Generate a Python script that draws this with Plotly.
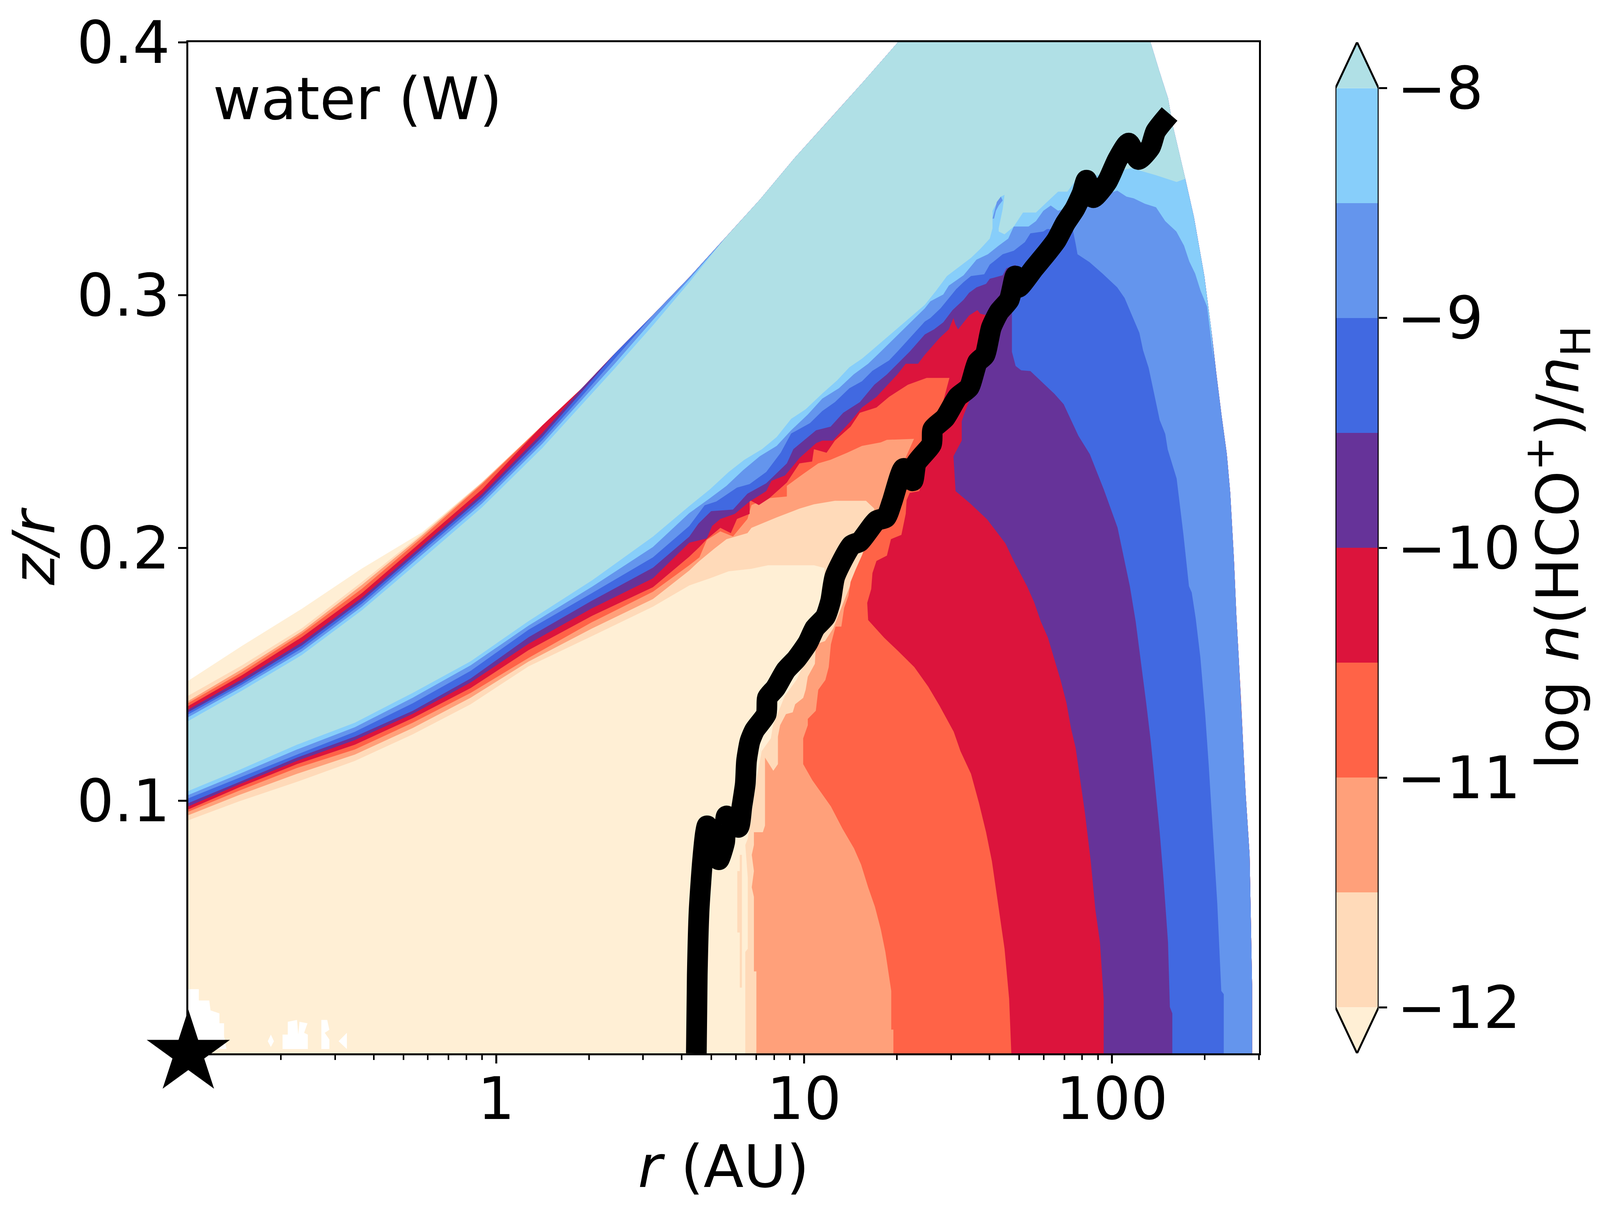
import plotly.graph_objects as go

# ---- values: log10(r/AU), z/r ----
upper_logr = [-1, -.827, -.631, -.436, -.241, -.046, .150, .277, .384, .509, .627, .744, .857, .970, 1.083, 1.195, 1.305]
upper_powder = [.1315, .1434, .1576, .1753, .1955, .2160, .2395, .2565, .2708, .2880, .3050, .3226, .3378, .3543, .3695,
                .3847, .400]
# height of each level's top edge above the top of the powder-blue layer
band_papaya = [.0159, .0177, .0183, .0165, .0106, .0100, .0089, .0065, .0059, .0041, .0020, 0, 0, 0, 0, 0, 0]
band_peach = [.0100, .0100, .0106, .0112, .0100, .0100, .0089, .0065, .0059, .0041, .0020, 0, 0, 0, 0, 0, 0]
band_salmon = [.0079, .0085, .0094, .0100, .0094, .0097, .0089, .0065, .0059, .0041, .0020, 0, 0, 0, 0, 0, 0]
band_tomato = [.0071, .0073, .0085, .0085, .0085, .0092, .0089, .0065, .0059, .0041, .0020, 0, 0, 0, 0, 0, 0]
band_crimson = [.0059, .0061, .0071, .0068, .0071, .0071, .0089, .0065, .0059, .0041, .0020, 0, 0, 0, 0, 0, 0]
band_purple = [.0045, .0045, .0050, .0050, .0053, .0053, .0059, .0065, .0059, .0041, .0020, 0, 0, 0, 0, 0, 0]
band_royal = [.0035, .0033, .0038, .0038, .0041, .0041, .0045, .0050, .0059, .0041, .0020, 0, 0, 0, 0, 0, 0]
band_corn = [.0026, .0024, .0026, .0026, .0030, .0028, .0031, .0033, .0038, .0041, .0020, 0, 0, 0, 0, 0, 0]
band_sky = [.0015, .0014, .0014, .0014, .0017, .0015, .0017, .0018, .0019, .0021, .0012, 0, 0, 0, 0, 0, 0]
band_powder = [0] * 17

outer_edge = [(2.125, .400), (2.153, .3888), (2.182, .3778), (2.198, .3667), (2.238, .3460), (2.266, .3309),
              (2.300, .3074), (2.322, .2867), (2.339, .2688), (2.356, .2522), (2.373, .2370), (2.384, .2218),
              (2.396, .1956), (2.404, .1733), (2.411, .1579), (2.419, .1400), (2.426, .1221), (2.434, .1029),
              (2.447, .0785), (2.455, .0273), (2.455, 0)]

edge_peach = [(-1, .0922), (-.835, .0997), (-.647, .1074), (-.459, .1157), (-.271, .1262), (-.083, .1381), (.105, .1531),
              (.31, .1650), (.509, .1767), (.627, .1851), (.694, .1879),
              (.755, .1907), (.829, .1917), (.883, .1931), (1.032, .1931), (1.066, .1920), (1.069, .1669),
              (1.035, .1631), (.975, .1477), (.937, .1413), (.899, .1298), (.892, .1246), (.862, .1195),
              (.843, .1067), (.817, .0849), (.809, .0824), (.817, .0696), (.817, .0414), (.809, .0401), (.809, 0)]

edge_salmon = [(-1, .0942), (-.835, .1022), (-.647, .1106), (-.459, .1182), (-.271, .1287), (-.083, .1407), (.105, .1550),
               (.31, .1680), (.509, .1797), (.627, .1910), (.660, .1948),
               (.708, .1996), (.748, .2034), (.816, .2058), (.829, .2079), (.911, .2120), (.985, .2155), (1.032, .2172),
               (1.100, .2186), (1.201, .2186), (1.228, .2155), (1.188, .1969), (1.095, .1682), (1.068, .1631),
               (1.038, .1618), (1.035, .1541), (1.012, .1490), (1.005, .1438), (.997, .1406), (.971, .1381),
               (.963, .1349), (.941, .1342), (.922, .1298), (.915, .1253), (.915, .1144), (.900, .1118), (.873, .1170),
               (.873, .0901), (.866, .0875), (.837, .0875), (.837, .0824), (.830, .0785), (.837, .0721), (.830, .0657),
               (.837, .0619), (.837, .0324), (.845, .0324), (.845, 0)]

edge_tomato = [(-1, .0956), (-.835, .1039), (-.647, .1129), (-.459, .1202), (-.271, .1308), (-.083, .1426), (.105, .1564),
               (.31, .1705), (.509, .1826), (.627, .1931), (.660, .1962),
               (.684, .2031), (.728, .2065), (.769, .2045), (.816, .2114), (.829, .2169), (.883, .2196), (.944, .2203),
               (.944, .2245), (.998, .2293), (1.046, .2334), (1.086, .2348), (1.140, .2376), (1.188, .2403),
               (1.249, .2417), (1.269, .2427), (1.357, .2431), (1.167, .1913), (1.151, .1865), (1.144, .1810),
               (1.130, .1762), (1.121, .1688), (1.102, .1688), (1.087, .1618), (1.080, .1528), (1.069, .1477),
               (1.046, .1438), (1.038, .1355), (1.012, .1323), (1.012, .1298), (.997, .1246), (.997, .1144),
               (1.027, .1080), (1.050, .1041), (1.087, .0977), (1.125, .0888), (1.162, .0811), (1.185, .0747),
               (1.208, .0657), (1.230, .0580), (1.249, .0491), (1.264, .0401), (1.283, .0247), (1.283, .0094),
               (1.290, .0094), (1.290, 0)]

edge_crimson = [(-1, .0965), (-.835, .1052), (-.647, .1144), (-.459, .1221), (-.271, .1326), (-.083, .1445), (.105, .1595),
                (.31, .1730), (.509, .1844), (.627, .1965), (.660, .2003),
                (.684, .2034), (.728, .2079), (.762, .2058), (.782, .2114), (.823, .2134), (.823, .2189), (.853, .2169),
                (.887, .2196), (.944, .2258), (.985, .2334), (1.026, .2341), (1.032, .2390), (1.073, .2376),
                (1.100, .2424), (1.151, .2479), (1.181, .2534), (1.235, .2555), (1.276, .2597), (1.337, .2645),
                (1.398, .2672), (1.472, .2672), (1.374, .2224), (1.343, .2217), (1.333, .2189), (1.330, .2134),
                (1.316, .2051), (1.282, .2034), (1.269, .1969), (1.235, .1948), (1.222, .1900), (1.218, .1837),
                (1.205, .1782), (1.208, .1714), (1.260, .1644), (1.305, .1592), (1.358, .1528), (1.403, .1451),
                (1.440, .1375), (1.486, .1272), (1.508, .1195), (1.542, .1106), (1.568, .0990), (1.591, .0875),
                (1.610, .0760), (1.628, .0606), (1.651, .0414), (1.666, .0215), (1.673, 0)]

edge_purple = [(-1, .0977), (-.835, .1064), (-.647, .1157), (-.459, .1239), (-.271, .1343), (-.083, .1467), (.105, .1620),
               (.31, .1760), (.509, .1879), (.627, .2020), (.684, .2037),
               (.701, .2086), (.728, .2114), (.775, .2134), (.823, .2183), (.877, .2224), (.894, .2265), (.938, .2286),
               (.971, .2334), (.985, .2355), (1.039, .2414), (1.059, .2424), (1.093, .2424), (1.151, .2500),
               (1.188, .2555), (1.235, .2597), (1.303, .2686), (1.330, .2728), (1.370, .2728), (1.391, .2762),
               (1.440, .2830), (1.470, .2864), (1.485, .2909), (1.491, .2885), (1.500, .2864), (1.518, .2892),
               (1.536, .2919), (1.563, .2940), (1.572, .2926), (1.597, .2919), (1.606, .2940), (1.566, .2686),
               (1.566, .2627), (1.539, .2589), (1.519, .2527), (1.512, .2500), (1.512, .2424), (1.485, .2362),
               (1.492, .2224), (1.539, .2176), (1.594, .2113), (1.654, .2017), (1.681, .1948), (1.724, .1848),
               (1.747, .1785), (1.769, .1708), (1.792, .1644), (1.814, .1554), (1.833, .1477), (1.852, .1387),
               (1.867, .1285), (1.882, .1208), (1.897, .1080), (1.912, .0952), (1.931, .0760), (1.946, .0568),
               (1.961, .0439), (1.973, .0215), (1.973, 0)]

edge_royal = [(-1, .0990), (-.835, .1073), (-.647, .1170), (-.459, .1253), (-.271, .1355), (-.083, .1483), (.105, .1646),
              (.31, .1790), (.509, .1921), (.627, .2044), (.657, .2096),
              (.698, .2145), (.769, .2151), (.816, .2214), (.877, .2255), (.944, .2334), (.965, .2390), (1.039, .2465),
              (1.086, .2479), (1.127, .2534), (1.181, .2576), (1.228, .2645), (1.269, .2686), (1.303, .2728),
              (1.343, .2776), (1.392, .2844), (1.422, .2864), (1.452, .2892), (1.482, .2940), (1.518, .2981),
              (1.536, .3009), (1.560, .3030), (1.591, .3044), (1.603, .3064), (1.645, .3078), (1.657, .3106),
              (1.687, .3119), (1.675, .2926), (1.675, .2775), (1.687, .2719), (1.705, .2702), (1.735, .2699),
              (1.777, .2650), (1.813, .2609), (1.843, .2568), (1.867, .2506), (1.891, .2443), (1.928, .2370),
              (1.973, .2232), (2.018, .2080), (2.058, .1848), (2.077, .1708), (2.092, .1567), (2.111, .1387),
              (2.126, .1234), (2.141, .1054), (2.155, .0875), (2.167, .0696), (2.182, .0439), (2.188, .0183),
              (2.196, .0158), (2.196, 0)]

edge_corn = [(-1, .1009), (-.835, .1090), (-.647, .1182), (-.459, .1272), (-.271, .1385), (-.083, .1513), (.105, .1676),
             (.31, .1820), (.509, .1962), (.627, .2086), (.677, .2168),
             (.715, .2183), (.782, .2238), (.823, .2252), (.877, .2300), (.924, .2376), (.958, .2452), (1.019, .2493),
             (1.059, .2541), (1.100, .2576), (1.147, .2631), (1.188, .2659), (1.222, .2700), (1.276, .2741),
             (1.303, .2776), (1.392, .2895), (1.410, .2909), (1.443, .2947), (1.470, .2988), (1.494, .3023),
             (1.518, .3051), (1.542, .3075), (1.585, .3082), (1.603, .3120), (1.645, .3161), (1.681, .3175),
             (1.717, .3209), (1.735, .3244), (1.777, .3251), (1.789, .3261), (1.867, .3257), (1.873, .3257),
             (1.882, .3202), (1.888, .3161), (1.927, .3130), (1.969, .3085), (2.017, .3030), (2.041, .2988),
             (2.065, .2919), (2.089, .2850), (2.101, .2781), (2.119, .2712), (2.137, .2609), (2.155, .2505),
             (2.173, .2450), (2.181, .2389), (2.210, .2274), (2.232, .2053), (2.250, .1848), (2.259, .1823),
             (2.272, .1720), (2.287, .1567), (2.303, .1336), (2.314, .1144), (2.329, .0849), (2.342, .0593),
             (2.355, .0247), (2.363, .0234), (2.363, 0)]

edge_sky = [(-1, .1022), (-.835, .1105), (-.647, .1202), (-.459, .1290), (-.271, .1407), (-.083, .1535), (.105, .1692),
            (.31, .1845), (.509, .2003), (.627, .2137), (.694, .2196),
            (.748, .2245), (.802, .2307), (.856, .2362), (.911, .2403), (.958, .2465), (1.012, .2527), (1.059, .2590),
            (1.113, .2631), (1.161, .2686), (1.208, .2728), (1.249, .2776), (1.392, .2947), (1.410, .2975),
            (1.452, .3002), (1.470, .3037), (1.518, .3078), (1.560, .3140), (1.597, .3161), (1.632, .3195),
            (1.663, .3223), (1.681, .3271), (1.729, .3271), (1.753, .3292), (1.777, .3333), (1.801, .3354),
            (1.825, .3333), (1.993, .3402), (2.017, .3413), (2.047, .3389), (2.071, .3382), (2.107, .3361),
            (2.143, .3347), (2.173, .3292), (2.209, .3251), (2.234, .3195), (2.251, .3133), (2.270, .3085),
            (2.288, .3016), (2.309, .2954), (2.318, .2864), (2.330, .2740)]

edge_powder = [(-1, .1038), (-.835, .1121), (-.647, .1221), (-.459, .1308), (-.271, .1426), (-.083, .1551), (.105, .1710),
               (.31, .1870), (.509, .2044), (.627, .2165), (.694, .2231),
               (.755, .2300), (.806, .2348), (.863, .2390), (.911, .2438), (.958, .2510), (1.005, .2548), (1.059, .2610),
               (1.107, .2662), (1.147, .2714), (1.188, .2748), (1.215, .2776), (1.392, .2961), (1.428, .3016),
               (1.464, .3075), (1.506, .3113), (1.542, .3147), (1.572, .3182), (1.603, .3223), (1.612, .3264),
               (1.612, .3333), (1.618, .3347), (1.639, .3389), (1.651, .3396), (1.645, .3340), (1.632, .3264),
               (1.632, .3251), (1.651, .3240), (1.681, .3271), (1.711, .3326), (1.753, .3326), (1.783, .3361),
               (1.825, .3409), (1.855, .3409), (1.885, .3458), (2.063, .3502), (2.142, .3474), (2.210, .3447),
               (2.238, .3460)]

patch_peach = [(.783, .0721), (.791, .0721), (.791, .0785), (.798, .0785), (.798, .0260), (.791, .0260), (.791, .0478),
               (.783, .0478)]
patch_corn = [(1.612, .3302), (1.626, .3368), (1.639, .3389), (1.645, .3374), (1.632, .3354), (1.623, .3333),
              (1.617, .3302)]
holes = [
    [(-1, .0017), (-1, .0254), (-.966, .0254), (-.966, .0209), (-.932, .0209), (-.928, .0170), (-.899, .0158),
     (-.899, .0119), (-.884, .0119), (-.884, .0068), (-.876, .0017)],
    [(-.694, .0017), (-.694, .0074), (-.677, .0074), (-.677, .0125), (-.647, .0132), (-.643, .0074), (-.639, .0125),
     (-.613, .0119), (-.624, .0081), (-.612, .0074), (-.612, .0017)],
    [(-.568, .0017), (-.568, .0132), (-.549, .0132), (-.542, .0093), (-.557, .0081), (-.542, .0055), (-.542, .0017)],
    [(-.512, .0048), (-.485, .0081), (-.485, .0017)],
    [(-.742, .0048), (-.732, .0074), (-.722, .0048), (-.732, .0025)],
]

snow_line = [(.650, 0), (.653, .0311), (.659, .0567), (.670, .0760), (.680, .0875), (.685, .0900), (.710, .0824),
             (.723, .0766), (.742, .0836), (.748, .0939), (.787, .0894), (.798, .0977), (.809, .1067), (.813, .1157),
             (.824, .1234), (.839, .1278), (.877, .1342), (.881, .1407), (.907, .1445), (.941, .1516), (.975, .1560),
             (1.012, .1624), (1.035, .1682), (1.069, .1727), (1.086, .1789), (1.100, .1886), (1.154, .2010), (1.181, .2024),
             (1.235, .2107), (1.266, .2120), (1.286, .2183), (1.323, .2314), (1.353, .2265), (1.364, .2334),
             (1.414, .2410), (1.418, .2469), (1.458, .2514), (1.499, .2597), (1.536, .2634), (1.563, .2734),
             (1.587, .2762), (1.608, .2871), (1.633, .2933), (1.666, .2981), (1.686, .3075), (1.696, .3030), (1.747, .3106),
             (1.789, .3168), (1.819, .3216), (1.849, .3285), (1.879, .3340), (1.903, .3402), (1.917, .3454),
             (1.939, .3385), (1.984, .3447), (2.018, .3536), (2.054, .3601), (2.086, .3536), (2.125, .3585),
             (2.142, .3647), (2.187, .3716)]

level_names = ["papaya", "peach", "salmon", "tomato", "crimson", "purple", "royal", "corn", "sky", "powder"]
level_colors = ["#FFEFD5", "#FFDAB9", "#FFA07A", "#FF6347", "#DC143C", "#663399", "#4169E1", "#6495ED", "#87CEFA", "#B0E0E6"]
level_bands = [band_papaya, band_peach, band_salmon, band_tomato, band_crimson, band_purple, band_royal, band_corn,
               band_sky, band_powder]
level_edges = [[(-1, 0)], edge_peach, edge_salmon, edge_tomato, edge_crimson, edge_purple, edge_royal, edge_corn,
               edge_sky, edge_powder]

cbar_levels = [-12, -11.5, -11, -10.5, -10, -9.5, -9, -8.5]
cbar_colors = level_colors[1:9]
cbar_ticks = [-12, -11, -10, -9, -8]
cbar_labels = ["\u221212", "\u221211", "\u221210", "\u22129", "\u22128"]
cbar_tip_low = -12.2
cbar_tip_high = -7.8
cbar_under = "#FFEFD5"

x_ticks = [1, 10, 100]
x_labels = ["1", "10", "100"]
x_minor = [.2, .3, .4, .5, .6, .7, .8, .9, 2, 3, 4, 5, 6, 7, 8, 9, 20, 30, 40, 50, 60, 70, 80, 90, 200, 300]
y_ticks = [.1, .2, .3, .4]
y_labels = ["0.1", "0.2", "0.3", "0.4"]

FONT = "DejaVu Sans"
REF_W, REF_H = 4409, 3120
W, H = 4096, 3120      # the browser window stops at 4096 wide; fractions of the reference frame are kept
FS = 150
LW = 5


def xy(points):
    return [10 ** p[0] for p in points], [p[1] for p in points]


fig = go.Figure()

for edge, band, color, name in zip(level_edges, level_bands, level_colors, level_names):
    top = [(a, b + c) for a, b, c in zip(upper_logr, upper_powder, band)]
    end_z = edge[-1][1]
    if end_z == 0:
        right = list(reversed(outer_edge))
    else:
        right = [p for p in reversed(outer_edge) if p[1] > end_z]
    path = edge + right + top[::-1]
    x, y = xy(path)
    fig.add_trace(go.Scatter(x=x, y=y, mode="lines", fill="toself", fillcolor=color, line=dict(width=0),
                             name=name, showlegend=False, hoverinfo="skip"))

for patch, color in ((patch_peach, level_colors[1]), (patch_corn, level_colors[7])):
    x, y = xy(patch)
    fig.add_trace(go.Scatter(x=x, y=y, mode="lines", fill="toself", fillcolor=color, line=dict(width=0),
                             showlegend=False, hoverinfo="skip"))

hx, hy = [], []
for hole in holes:
    a, b = xy(hole)
    hx += a + [None]
    hy += b + [None]
fig.add_trace(go.Scatter(x=hx, y=hy, mode="lines", fill="toself", fillcolor="white", line=dict(width=0),
                         showlegend=False, hoverinfo="skip"))

x, y = xy(snow_line)
fig.add_trace(go.Scatter(x=x, y=y, mode="lines", line=dict(color="black", width=53, shape="spline", smoothing=.6),
                         showlegend=False, hoverinfo="skip"))

fig.add_trace(go.Scatter(x=[.1], y=[0], mode="markers", cliponaxis=False, showlegend=False, hoverinfo="skip",
                         marker=dict(symbol="star", color="black", size=160, line=dict(width=0))))

# colour bar
fig.add_trace(go.Bar(x=[0] * len(cbar_levels), y=[.5] * len(cbar_levels), base=cbar_levels, width=1,
                     marker=dict(color=cbar_colors, line=dict(width=0)), xaxis="x2", yaxis="y2",
                     showlegend=False, hoverinfo="skip"))
fig.add_trace(go.Scatter(x=[-.5, 0, .5], y=[cbar_ticks[-1], cbar_tip_high, cbar_ticks[-1]], mode="lines", fill="toself",
                         fillcolor=level_colors[9], line=dict(width=0), xaxis="x2", yaxis="y2", showlegend=False,
                         hoverinfo="skip"))
fig.add_trace(go.Scatter(x=[-.5, 0, .5], y=[cbar_ticks[0], cbar_tip_low, cbar_ticks[0]], mode="lines", fill="toself",
                         fillcolor=cbar_under, line=dict(width=0), xaxis="x2", yaxis="y2", showlegend=False,
                         hoverinfo="skip"))
fig.add_trace(go.Scatter(x=[-.5, 0, .5, .5, 0, -.5, -.5],
                         y=[cbar_ticks[-1], cbar_tip_high, cbar_ticks[-1], cbar_ticks[0], cbar_tip_low, cbar_ticks[0],
                            cbar_ticks[-1]],
                         mode="lines", line=dict(color="black", width=LW), cliponaxis=False, xaxis="x2", yaxis="y2",
                         showlegend=False, hoverinfo="skip"))

tick_font = dict(family=FONT, size=FS, color="black")
fig.update_layout(
    width=W, height=H, paper_bgcolor="white", plot_bgcolor="white", autosize=False,
    margin=dict(l=0, r=0, t=0, b=0, autoexpand=False), barmode="overlay", bargap=0,
    font=tick_font,
    xaxis=dict(type="log", range=[-1, 2.4771], domain=[519 / REF_W, 3469 / REF_W], anchor="y", showgrid=False,
               zeroline=False, showline=True, mirror=True, linecolor="black", linewidth=LW,
               ticks="outside", ticklen=21, tickwidth=LW, tickcolor="black", tickmode="array", tickvals=x_ticks,
               ticktext=x_labels, tickfont=tick_font, ticklabelstandoff=-38,
               minor=dict(ticks="outside", ticklen=12, tickwidth=3.5, tickcolor="black", tickmode="array",
                          tickvals=x_minor, showgrid=False),
               title=dict(text="<i>r</i> (AU)", font=tick_font, standoff=0)),
    yaxis=dict(range=[0, .4], domain=[(REF_H - 2696) / REF_H, (REF_H - 108) / REF_H], anchor="x", showgrid=False,
               zeroline=False, showline=True, mirror=True, linecolor="black", linewidth=LW,
               ticks="outside", ticklen=21, tickwidth=LW, tickcolor="black", tickmode="array", tickvals=y_ticks,
               ticktext=y_labels, tickfont=tick_font, ticklabelstandoff=-9,
               title=dict(text="<i>z/r</i>", font=tick_font, standoff=30)),
    xaxis2=dict(range=[-.5, .5], domain=[3680 / REF_W, 3799 / REF_W], anchor="y2", showgrid=False, zeroline=False,
                showline=False, showticklabels=False, ticks=""),
    yaxis2=dict(range=[cbar_tip_low, cbar_tip_high], domain=[(REF_H - 2696) / REF_H, (REF_H - 108) / REF_H],
                anchor="x2", side="right", showgrid=False, zeroline=False, showline=False, ticks="outside", ticklen=21,
                tickwidth=LW, tickcolor="black", tickmode="array", tickvals=cbar_ticks, ticktext=cbar_labels,
                tickfont=tick_font, ticklabelstandoff=-5,
                title=dict(text="log <i>n</i>(HCO<sup>+</sup>)/<i>n</i><sub>H</sub>", font=tick_font, standoff=25)),
    annotations=[dict(text="water (W)", xref="x domain", yref="y domain", x=66 / 2950, y=.944, xanchor="left",
                      yanchor="middle", showarrow=False, font=tick_font)],
)

fig.write_html("out.html", post_script="document.body.style.margin='0';", config={"displayModeBar": False})
